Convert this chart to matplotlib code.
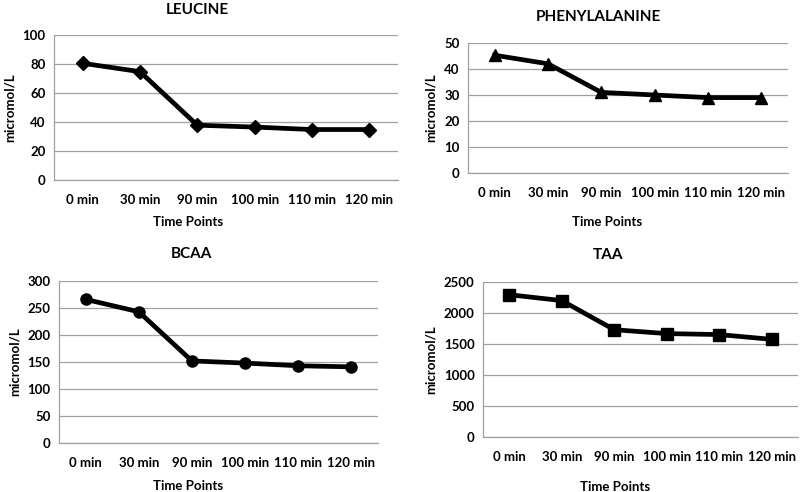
import matplotlib
matplotlib.use('Agg')
import matplotlib.pyplot as plt

plt.rcParams['font.family'] = ['Lato', 'DejaVu Sans']
plt.rcParams['font.weight'] = 'bold'

time_labels = ['0 min', '30 min', '90 min', '100 min', '110 min', '120 min']

leucine = [80.5, 74.7, 37.8, 36.5, 34.8, 34.8]
phenylalanine = [45.3, 42.0, 31.0, 30.0, 29.0, 29.0]
bcaa = [266, 243, 152, 148, 143, 141]
taa = [2295, 2200, 1730, 1668, 1652, 1575]

W, H = 800, 492

def px_axes(fig, left, right, top, bottom):
    return fig.add_axes([left / W, 1 - bottom / H, (right - left) / W, (bottom - top) / H])

fig = plt.figure(figsize=(8, 4.92), dpi=100)

# values, title, marker, ymax, step, box (l, r, t, b), title (x, y), xtick y, xlabel (x, y)
panels = [
    (leucine, 'LEUCINE', 'D', 100, 20, (54, 398, 35, 180), (197, 10), 200, (188, 222)),
    (phenylalanine, 'PHENYLALANINE', '^', 50, 10, (468, 788, 43, 173), (598, 17), 193, (607, 222)),
    (bcaa, 'BCAA', 'o', 300, 50, (59, 378, 281, 443), (191, 254), 463, (188, 486)),
    (taa, 'TAA', 's', 2500, 500, (483, 798, 282, 437), (608, 255), 457, (615, 487)),
]

for vals, title, mk, ymax, step, box, tpos, tky, xpos in panels:
    l, r, t, b = box
    ax = px_axes(fig, l, r, t, b)
    ax.plot(range(len(time_labels)), vals, color='black', lw=3.4, marker=mk,
            markersize=8 if mk != 'D' else 7, zorder=3)
    ax.set_xlim(-0.5, 5.5)
    ax.set_ylim(0, ymax)
    ax.set_yticks(range(0, ymax + 1, step))
    ax.set_xticks(range(len(time_labels)))
    ax.set_xticklabels(time_labels)
    ax.grid(axis='y', color='#a0a0a0', lw=0.9)
    ax.set_axisbelow(True)
    for s in ['top', 'right']:
        ax.spines[s].set_visible(False)
    for s in ['left', 'bottom']:
        ax.spines[s].set_color('#a0a0a0')
        ax.spines[s].set_linewidth(0.9)
    ax.tick_params(length=0, labelsize=9.5, colors='black')
    ax.tick_params(axis='y', pad=6)
    ax.tick_params(axis='x', pad=(tky - b) * 0.72 - 4.5)
    ax.set_ylabel('micromol/L', fontsize=9.5, fontweight='bold', labelpad=5)
    fig.text(tpos[0] / W, 1 - tpos[1] / H, title, ha='center', va='center',
             fontsize=11, fontweight='bold')
    fig.text(xpos[0] / W, 1 - xpos[1] / H, 'Time Points', ha='center', va='center',
             fontsize=9.5, fontweight='bold')

fig.savefig('out.png', dpi=100, facecolor='white')
